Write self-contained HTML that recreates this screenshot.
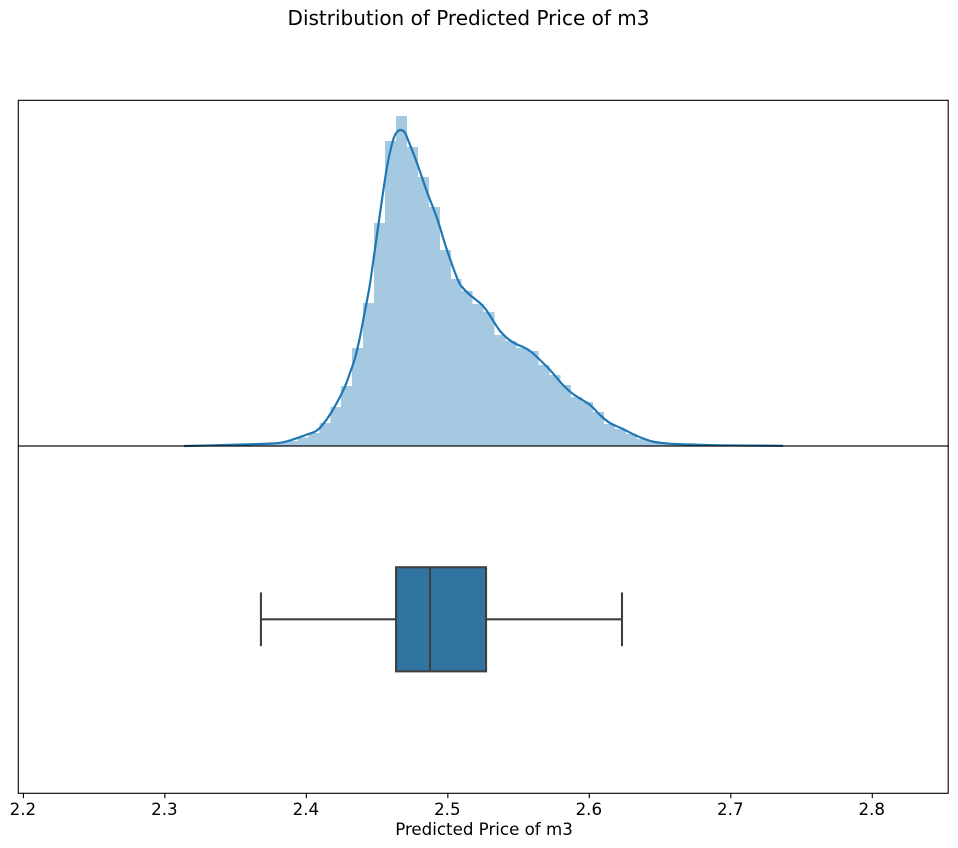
<!DOCTYPE html>
<html lang="en">
<head>
<meta charset="utf-8">
<title>Distribution of Predicted Price of m3</title>
<style>
  html, body { margin: 0; padding: 0; background: #fff; }
  body { width: 958px; height: 848px; overflow: hidden; }
  svg { display: block; }
  text { font-family: "DejaVu Sans", "Liberation Sans", sans-serif; fill: #000; }
</style>
</head>
<body>
<svg id="chart" width="958" height="848" viewBox="0 0 958 848" xmlns="http://www.w3.org/2000/svg">
  <rect x="0" y="0" width="958" height="848" fill="#ffffff"/>
  <text x="468.5" y="25" text-anchor="middle" font-size="20">Distribution of Predicted Price of m3</text>
  <g id="hist-layer" shape-rendering="crispEdges"></g>
  <path id="kde-line" fill="none" stroke="#1f77b4" stroke-width="2.2" stroke-linejoin="round"/>
  <g id="box-layer"></g>
  <rect x="18.3" y="100.3" width="929.9" height="345.7" fill="none" stroke="#000" stroke-width="1.1"/>
  <rect x="18.3" y="446" width="929.9" height="347.3" fill="none" stroke="#000" stroke-width="1.1"/>
  <g id="tick-layer"></g>
  <text x="484" y="835" text-anchor="middle" font-size="16.67">Predicted Price of m3</text>
</svg>
<script>
// Histogram bins
const binStart = 2.3163;
const binWidth = 0.00774;
const binDensity = [
  0.003, 0.003, 0.004, 0.005, 0.007, 0.01, 0.012, 0.023, 0.033, 0.05,
  0.085, 0.13, 0.23, 0.39, 0.60, 0.98, 1.43, 2.23, 3.05, 3.30,
  2.99, 2.69, 2.39, 1.96, 1.67, 1.55, 1.42, 1.34, 1.11, 1.05,
  0.98, 0.95, 0.81, 0.71, 0.61, 0.49, 0.44, 0.34, 0.22, 0.17,
  0.12, 0.07, 0.05, 0.03, 0.022, 0.015, 0.01, 0.008, 0.006, 0.005,
  0.004, 0.003, 0.003, 0.002
];

// KDE curve
const kdeX = [
  2.3135, 2.3358, 2.3577, 2.3743, 2.3814, 2.3884, 2.3955, 2.4026, 2.4069, 2.4111,
  2.4174, 2.4262, 2.4308, 2.4344, 2.4379, 2.4402, 2.4429, 2.4455, 2.4521, 2.4570,
  2.4613, 2.4641, 2.4669, 2.4698, 2.4719, 2.4782, 2.4853, 2.4923, 2.4994, 2.5071,
  2.5107, 2.5157, 2.5242, 2.5283, 2.5326, 2.5369, 2.5418, 2.5475, 2.5531, 2.5581,
  2.5637, 2.5722, 2.5814, 2.5885, 2.6005, 2.6075, 2.6146, 2.6238, 2.6337, 2.6451,
  2.6571, 2.6761, 2.6924, 2.7370
];
const kdeY = [
  0.00, 0.007, 0.016, 0.024, 0.032, 0.055, 0.09, 0.125, 0.15, 0.205,
  0.33, 0.56, 0.73, 0.88, 1.09, 1.26, 1.46, 1.67, 2.33, 2.79,
  3.06, 3.14, 3.16, 3.13, 3.06, 2.83, 2.54, 2.28, 1.96, 1.66,
  1.58, 1.51, 1.41, 1.335, 1.24, 1.15, 1.08, 1.025, 0.99, 0.95,
  0.88, 0.76, 0.61, 0.52, 0.41, 0.31, 0.23, 0.17, 0.10, 0.043,
  0.023, 0.013, 0.007, 0.002
];

// Box plot summary
const whiskerLow = 2.3679;
const quartile1 = 2.4634;
const medianValue = 2.4874;
const quartile3 = 2.5270;
const whiskerHigh = 2.6231;

// Axis ticks
const xTicks = [2.2, 2.3, 2.4, 2.5, 2.6, 2.7, 2.8];
const xTickLabels = ["2.2", "2.3", "2.4", "2.5", "2.6", "2.7", "2.8"];

// Axis functions
const X_ORIGIN = 23.4, X_DOMAIN_START = 2.2, X_SCALE = 1414.8;
function xPos(v) { return X_ORIGIN + (v - X_DOMAIN_START) * X_SCALE; }
const Y_BASE = 446, Y_SCALE = 100;
function yPos(v) { return Y_BASE - v * Y_SCALE; }
const BOX_MID = 619.3, BOX_UNIT = 347;
function boxY(offset) { return BOX_MID + offset * BOX_UNIT; }

const NS = "http://www.w3.org/2000/svg";
function make(tag, attrs, parent) {
  const el = document.createElementNS(NS, tag);
  for (const k in attrs) el.setAttribute(k, attrs[k]);
  parent.appendChild(el);
  return el;
}

// Histogram bars
const histLayer = document.getElementById("hist-layer");
binDensity.forEach(function (d, i) {
  const x0 = xPos(binStart + i * binWidth);
  const x1 = xPos(binStart + (i + 1) * binWidth);
  const bar = make("rect", {
    x: x0, y: yPos(d), width: x1 - x0, height: Y_BASE - yPos(d),
    fill: "#a5c9e1"
  }, histLayer);
  
  
});

// KDE smooth path (Catmull-Rom through the read points)
const pts = kdeX.map(function (v, i) { return [xPos(v), yPos(kdeY[i])]; });
let d = "M" + pts[0][0] + " " + pts[0][1];
for (let i = 0; i < pts.length - 1; i++) {
  const p0 = pts[Math.max(i - 1, 0)], p1 = pts[i], p2 = pts[i + 1], p3 = pts[Math.min(i + 2, pts.length - 1)];
  const c1x = p1[0] + (p2[0] - p0[0]) / 6, c1y = p1[1] + (p2[1] - p0[1]) / 6;
  const c2x = p2[0] - (p3[0] - p1[0]) / 6, c2y = p2[1] - (p3[1] - p1[1]) / 6;
  d += "C" + c1x + " " + c1y + " " + c2x + " " + c2y + " " + p2[0] + " " + p2[1];
}
document.getElementById("kde-line").setAttribute("d", d);

// Box plot
const boxLayer = document.getElementById("box-layer");
const BOX_STROKE = { stroke: "#3f3f3f", "stroke-width": 2.08 };
function boxLine(x1, y1, x2, y2) {
  return make("line", Object.assign({ x1: x1, y1: y1, x2: x2, y2: y2 }, BOX_STROKE), boxLayer);
}
const whiskerLeft = boxLine(xPos(whiskerLow), boxY(0), xPos(quartile1), boxY(0));


const whiskerRight = boxLine(xPos(quartile3), boxY(0), xPos(whiskerHigh), boxY(0));


const capLow = boxLine(xPos(whiskerLow), boxY(-0.0775), xPos(whiskerLow), boxY(0.0775));


const capHigh = boxLine(xPos(whiskerHigh), boxY(-0.0775), xPos(whiskerHigh), boxY(0.0775));


const iqrBox = make("rect", Object.assign({
  x: xPos(quartile1), y: boxY(-0.15),
  width: xPos(quartile3) - xPos(quartile1), height: boxY(0.15) - boxY(-0.15),
  fill: "#3274a1"
}, BOX_STROKE), boxLayer);


const medianLine = boxLine(xPos(medianValue), boxY(-0.15), xPos(medianValue), boxY(0.15));



// X ticks
const tickLayer = document.getElementById("tick-layer");
xTicks.forEach(function (t, i) {
  const tx = xPos(t);
  const mark = make("line", { x1: tx, y1: 793.3, x2: tx, y2: 798.2, stroke: "#000", "stroke-width": 1.1 }, tickLayer);
  
  
  const label = make("text", { x: tx - 0.5, y: 815, "text-anchor": "middle", "font-size": 16.67 }, tickLayer);
  label.textContent = xTickLabels[i];
  
  
});
</script>
</body>
</html>
